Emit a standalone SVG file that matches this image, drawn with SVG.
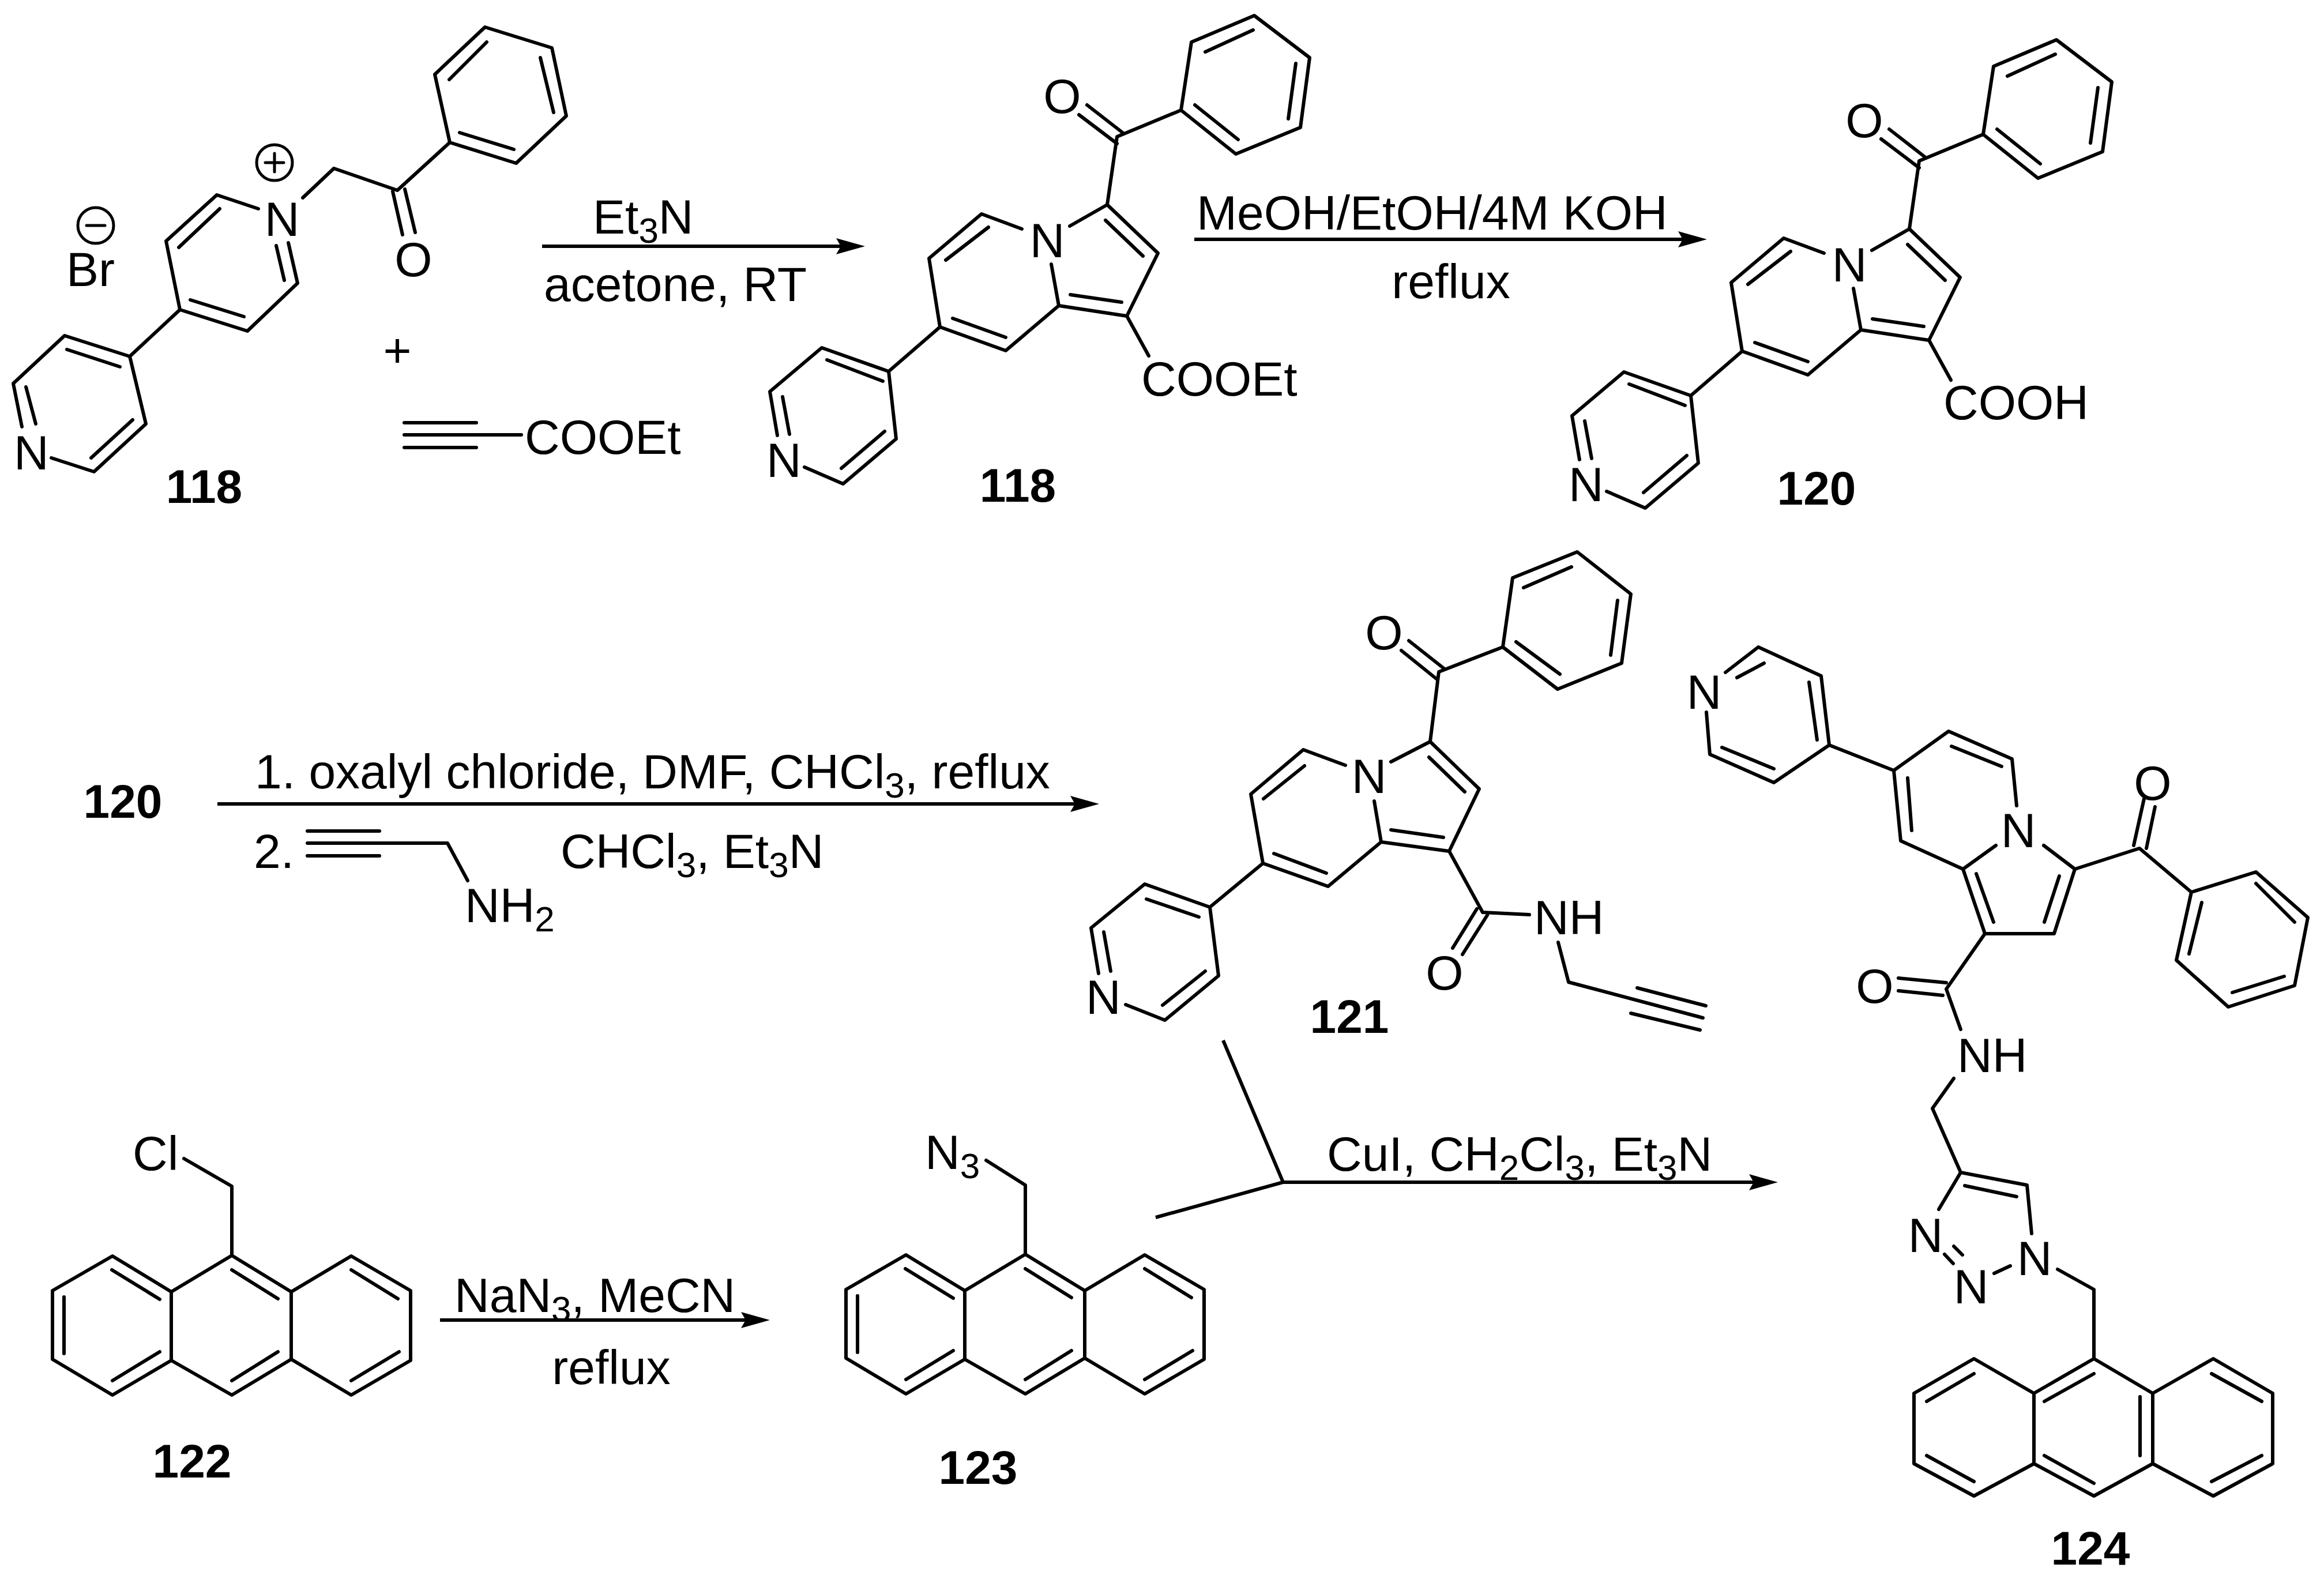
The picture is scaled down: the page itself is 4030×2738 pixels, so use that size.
<svg xmlns="http://www.w3.org/2000/svg" width="4030" height="2738" viewBox="0 0 4030 2738">
<style>
text{font-family:"Liberation Sans",Arial,sans-serif;font-size:84px;fill:#000}
.c{text-anchor:middle}
.b{font-weight:bold;font-size:82px}
.s{font-size:62px}
.bond{fill:none;stroke:#000;stroke-width:6;stroke-linecap:round;stroke-linejoin:round}
.thin{stroke-width:5}
.arrow{fill:none;stroke:#000;stroke-width:6}
</style>
<defs>
<marker id="head" markerUnits="userSpaceOnUse" markerWidth="50" markerHeight="28" viewBox="0 0 50 28" refX="8" refY="14" orient="auto">
<path d="M0 0L50 14L0 28L8 14Z" fill="#000"/>
</marker>
</defs>
<rect width="4030" height="2738" fill="#fff"/>

<g id="connectors">
<path class="arrow" d="M940 427H1458" marker-end="url(#head)"/>
<path class="arrow" d="M2071 415H2918" marker-end="url(#head)"/>
<path class="arrow" d="M377 1394H1864" marker-end="url(#head)"/>
<path class="arrow" d="M763 2289H1293" marker-end="url(#head)"/>
<path class="arrow" d="M2121 1804L2225 2050L2004 2111"/>
<path class="arrow" d="M2225 2050H3041" marker-end="url(#head)"/>
</g>

<g id="reagents-1">
<text x="1028" y="405">Et<tspan class="s" dy="16">3</tspan><tspan dy="-16">N</tspan></text>
<text x="943" y="522">acetone, RT</text>
</g>
<g id="reagents-2">
<text x="2075" y="398">MeOH/EtOH/4M KOH</text>
<text class="c" x="2516" y="517">reflux</text>
</g>
<g id="reagents-3">
<text x="442" y="1367">1. oxalyl chloride, DMF, CHCl<tspan class="s" dy="16">3</tspan><tspan dy="-16">, reflux</tspan></text>
<text x="440" y="1505">2.</text>
<path class="bond" d="M533 1441H658M533 1484H658M533 1462H776L811 1527"/>
<text x="806" y="1599">NH<tspan class="s" dy="16">2</tspan></text>
<text x="972" y="1505">CHCl<tspan class="s" dy="16">3</tspan><tspan dy="-16">, Et</tspan><tspan class="s" dy="16">3</tspan><tspan dy="-16">N</tspan></text>
</g>
<g id="reagents-4">
<text x="788" y="2275">NaN<tspan class="s" dy="16">3</tspan><tspan dy="-16">, MeCN</tspan></text>
<text class="c" x="1060" y="2400">reflux</text>
</g>
<g id="reagents-5">
<text x="2301" y="2030">CuI, CH<tspan class="s" dy="16">2</tspan><tspan dy="-16">Cl</tspan><tspan class="s" dy="16">3</tspan><tspan dy="-16">, Et</tspan><tspan class="s" dy="16">3</tspan><tspan dy="-16">N</tspan></text>
</g>

<g id="compound-118-salt">
<path class="bond" d="M841 47L957 83L982 201L895 283L780 247L754 129ZM844 73L779 138M937 100L960 195M797 230L891 259"/>
<path class="bond" d="M780 247L689 330L579 292L525 343M681 332L698 407M702 328L720 403"/>
<path class="bond" d="M448 362L376 338L288 418L312 537L429 574L516 491L500 421M381 362L310 429M479 426L493 486M330 520L423 549"/>
<path class="bond" d="M312 537L225 618L112 582L23 665L38 740M89 794L163 818L253 735L225 618M45 671L62 735M158 794L230 728M116 606L208 636"/>
<text class="c" x="489" y="409">N</text>
<circle class="bond thin" cx="476" cy="282" r="31"/>
<path class="bond thin" d="M460 282H492M476 266V298"/>
<circle class="bond thin" cx="166" cy="391" r="31"/>
<path class="bond thin" d="M150 391H182"/>
<text x="115" y="496">Br</text>
<text class="c" x="717" y="479">O</text>
<text x="24" y="814">N</text>
<text class="b c" x="354" y="872">118</text>
</g>

<g id="plus">
<text class="c" x="689" y="636">+</text>
</g>

<g id="ethyl-propiolate">
<path class="bond" d="M701 733H826M701 776H826M701 754H904"/>
<text x="910" y="787">COOEt</text>
</g>

<g id="compound-118">
<path class="bond" d="M2175 27L2271 100L2255 221L2143 267L2048 191L2066 73ZM2173 52L2090 90M2247 110L2234 206M2072 182L2147 242"/>
<path class="bond" d="M2048 191L1937 237L1920 355M1885 182L1948 231M1871 199L1937 249"/>
<path class="bond" d="M1855 392L1920 355L2008 439L1954 548L1836 530L1823 458M1917 382L1982 444M1856 511L1945 524"/>
<path class="bond" d="M1772 397L1702 371L1611 448L1630 567L1744 608L1836 530M1714 394L1640 451M1652 552L1744 585"/>
<path class="bond" d="M1954 548L1992 617M1630 567L1541 644L1425 603L1335 679L1348 755M1395 810L1462 839L1554 761L1541 644M1434 624L1531 661M1357 688L1369 753M1534 748L1459 812"/>
<text class="c" x="1842" y="196">O</text>
<text class="c" x="1816" y="446">N</text>
<text x="1979" y="686">COOEt</text>
<text x="1329" y="827">N</text>
<text class="b c" x="1765" y="870">118</text>
</g>

<g id="compound-120">
<path class="bond" d="M3566 69L3662 142L3646 263L3534 309L3439 233L3457 115ZM3564 94L3481 132M3638 152L3625 248M3463 224L3538 284"/>
<path class="bond" d="M3439 233L3328 279L3311 397M3276 224L3339 273M3262 241L3328 291"/>
<path class="bond" d="M3246 434L3311 397L3399 481L3345 590L3227 572L3214 500M3308 424L3373 486M3247 553L3336 566"/>
<path class="bond" d="M3163 439L3093 413L3002 490L3021 609L3135 650L3227 572M3105 436L3031 493M3043 594L3135 627"/>
<path class="bond" d="M3345 590L3383 659M3021 609L2932 686L2816 645L2726 721L2739 797M2786 852L2853 881L2945 803L2932 686M2825 666L2922 703M2748 730L2760 795M2925 790L2850 854"/>
<text class="c" x="3233" y="238">O</text>
<text class="c" x="3207" y="488">N</text>
<text x="3370" y="727">COOH</text>
<text x="2720" y="869">N</text>
<text class="b c" x="3150" y="875">120</text>
</g>

<g id="label-120">
<text class="b c" x="213" y="1418">120</text>
</g>

<g id="compound-121">
<path class="bond" d="M2735 957L2828 1030L2812 1150L2701 1195L2606 1122L2623 1002ZM2642 1019L2725 983M2805 1041L2793 1136M2629 1113L2705 1169"/>
<path class="bond" d="M2606 1122L2495 1165L2480 1286M2443 1111L2505 1160M2430 1128L2492 1178"/>
<path class="bond" d="M2412 1321L2480 1286L2565 1368L2513 1476L2395 1460L2383 1389M2478 1313L2540 1373M2412 1439L2503 1452"/>
<path class="bond" d="M2333 1327L2260 1300L2169 1377L2190 1497L2303 1537L2395 1460M2262 1328L2191 1385M2209 1480L2300 1514"/>
<path class="bond" d="M2190 1497L2098 1573L1985 1533L1892 1609L1905 1688M1952 1742L2020 1769L2113 1692L2098 1573M1988 1559L2079 1590M1914 1616L1926 1684M2016 1743L2090 1684"/>
<path class="bond" d="M2513 1476L2571 1582L2652 1586M2561 1576L2519 1644M2579 1587L2536 1655M2702 1634L2720 1703L2953 1765M2839 1713L2958 1744M2828 1757L2948 1786"/>
<text class="c" x="2400" y="1126">O</text>
<text class="c" x="2374" y="1375">N</text>
<text x="1883" y="1758">N</text>
<text x="2660" y="1620">NH</text>
<text class="c" x="2505" y="1716">O</text>
<text class="b c" x="2340" y="1791">121</text>
</g>

<g id="compound-122">
<path class="bond" d="M319 2009L402 2057V2177M195 2178L91 2238V2357L195 2419L297 2359V2240ZM297 2240L402 2177L505 2240V2357L402 2419L297 2359M505 2240L609 2178L712 2238V2359L609 2419L505 2357"/>
<path class="bond" d="M194 2202L277 2253M111 2249V2347M195 2394L277 2344M402 2202L482 2252M402 2394L482 2344M609 2202L690 2252M609 2394L692 2344"/>
<text x="230" y="2029">Cl</text>
<text class="b c" x="333" y="2562">122</text>
</g>

<g id="compound-123">
<path class="bond" d="M1710 2012L1778 2055V2175M1571 2176L1467 2236V2355L1571 2417L1673 2357V2238ZM1673 2238L1778 2175L1881 2238V2355L1778 2417L1673 2357M1881 2238L1985 2176L2088 2236V2357L1985 2417L1881 2355"/>
<path class="bond" d="M1570 2200L1653 2251M1487 2247V2345M1571 2392L1653 2342M1778 2200L1858 2250M1778 2392L1858 2342M1985 2200L2066 2250M1985 2392L2068 2342"/>
<text x="1604" y="2027">N<tspan class="s" dy="16">3</tspan></text>
<text class="b c" x="1696" y="2573">123</text>
</g>

<g id="compound-124">
<path class="bond" d="M2992 1166L3049 1122L3158 1172L3172 1292L3076 1357L2965 1308L2959 1235M3012 1175L3059 1150M3137 1183L3151 1283M2986 1296L3076 1333"/>
<path class="bond" d="M3172 1292L3284 1336L3379 1268L3489 1316L3497 1397M3461 1466L3404 1507L3296 1458L3284 1336M3384 1294L3471 1329M3308 1349L3315 1440"/>
<path class="bond" d="M3404 1507L3442 1619H3562L3598 1507L3544 1466M3571 1519L3545 1599M3427 1515L3457 1599"/>
<path class="bond" d="M3598 1507L3710 1471L3800 1547M3700 1466L3718 1385M3722 1471L3737 1399"/>
<path class="bond" d="M3800 1547L3912 1512L4002 1591L3979 1709L3864 1746L3774 1665ZM3818 1565L3796 1654M3912 1532L3979 1599M3871 1721L3961 1693"/>
<path class="bond" d="M3442 1619L3375 1715L3400 1785M3375 1704L3292 1696M3369 1726L3292 1718"/>
<path class="bond" d="M3388 1870L3351 1922L3400 2033L3515 2055L3523 2139M3362 2097L3400 2033M3407 2056L3497 2075M3486 2195L3458 2208M3372 2175L3387 2191M3388 2161L3403 2176"/>
<path class="bond" d="M3568 2201L3631 2236V2356"/>
<path class="bond" d="M3631 2356L3527 2416V2538L3631 2594L3733 2538V2416ZM3527 2416L3423 2356L3319 2416V2538L3423 2594L3527 2538M3733 2416L3838 2356L3941 2416V2538L3838 2594L3733 2538"/>
<path class="bond" d="M3545 2430L3631 2382M3711 2422V2524M3545 2524L3631 2572M3341 2430L3423 2382M3341 2524L3423 2569M3835 2382L3922 2430M3835 2569L3922 2524"/>
<text class="c" x="2955" y="1229">N</text>
<text class="c" x="3500" y="1469">N</text>
<text class="c" x="3733" y="1387">O</text>
<text class="c" x="3251" y="1739">O</text>
<text x="3394" y="1859">NH</text>
<text class="c" x="3339" y="2171">N</text>
<text class="c" x="3418" y="2260">N</text>
<text class="c" x="3528" y="2211">N</text>
<text class="b c" x="3625" y="2713">124</text>
</g>
</svg>
